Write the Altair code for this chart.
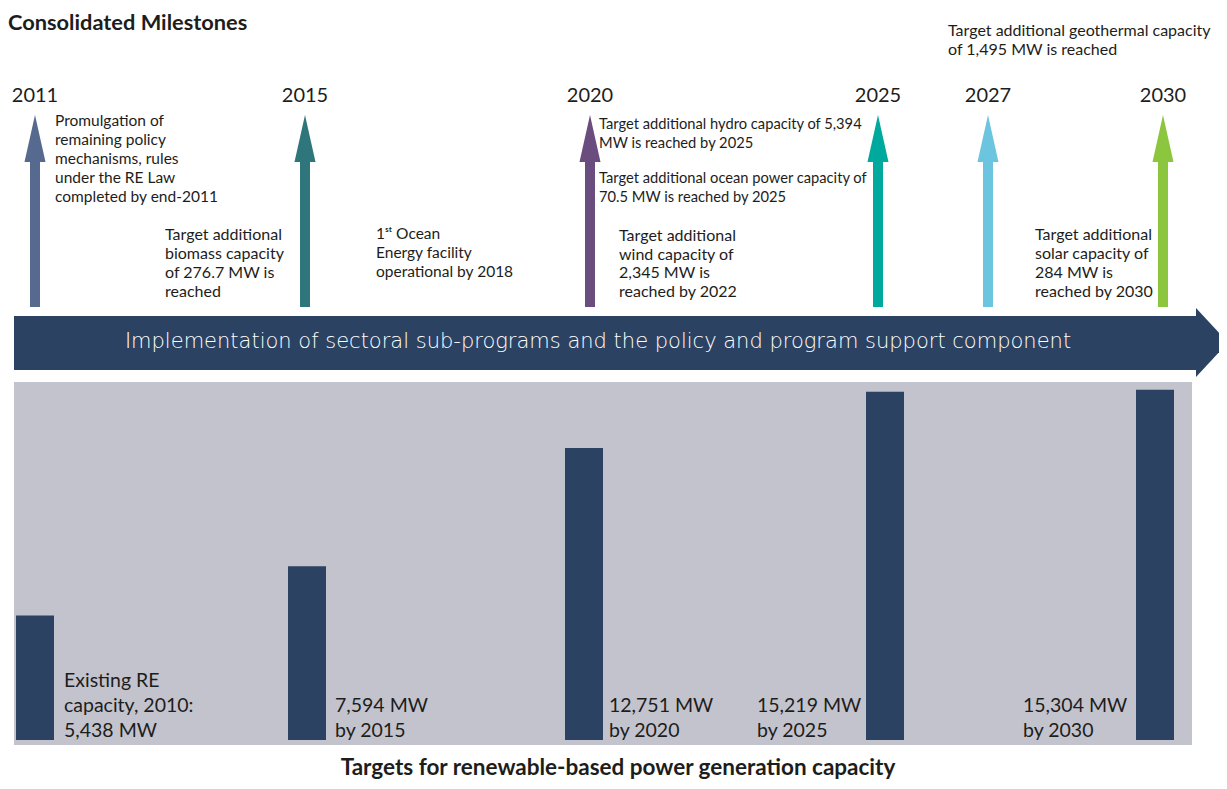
import altair as alt
import pandas as pd

# ---------------- data ----------------
milestone_years = [2011, 2015, 2020, 2025, 2027, 2030]
milestone_labels = ["2011", "2015", "2020", "2025", "2027", "2030"]
arrow_colors = ["#56698f", "#2e767b", "#6a4c7f", "#00a99d", "#6cc5de", "#8cc63f"]

note_years = [2011, 2015, 2015, 2020, 2020, 2020, 2027, 2030]
note_texts = [
    "Promulgation of\nremaining policy\nmechanisms, rules\nunder the RE Law\ncompleted by end-2011",
    "Target additional\nbiomass capacity\nof 276.7 MW is\nreached",
    "1\u02e2\u1d57 Ocean\nEnergy facility\noperational by 2018",
    "Target additional hydro capacity of 5,394\nMW is reached by 2025",
    "Target additional ocean power capacity of\n70.5 MW is reached by 2025",
    "Target additional\nwind capacity of\n2,345 MW is\nreached by 2022",
    "Target additional geothermal capacity\nof 1,495 MW is reached",
    "Target additional\nsolar capacity of\n284 MW is\nreached by 2030",
]

bar_years = [2010, 2015, 2020, 2025, 2030]
bar_values = [5438, 7594, 12751, 15219, 15304]
bar_labels = [
    "Existing RE\ncapacity, 2010:\n5,438 MW",
    "7,594 MW\nby 2015",
    "12,751 MW\nby 2020",
    "15,219 MW\nby 2025",
    "15,304 MW\nby 2030",
]

band_text = "Implementation of sectoral sub-programs and the policy and program support component"
top_title = "Consolidated Milestones"
bottom_title = "Targets for renewable-based power generation capacity"

# ---------------- layout / style ----------------
W = 1211
TOP_H = 372
BOT_H = 401
milestone_px = [27, 297, 582, 870, 980, 1155]
bar_px = [27, 299, 576, 877, 1147]
# (dx from arrow, first-line baseline, font size, line height)
note_layout = [
    (20, 118, 15.5, 19),
    (-140, 232, 16, 19),
    (71, 231, 15.5, 19),
    (9, 121, 14.7, 19),
    (9, 175, 14.7, 19),
    (29, 233, 16, 18.7),
    (-40, 28, 16, 18.5),
    (-128, 232, 16, 19),
]
bar_label_dx = [29, 28, 25, -128, -132]
BAR_LABEL_LH = 25
BAR_LABEL_LAST_BASELINE = 357

TEXT = "#1d1d1b"
NAVY = "#2c4262"
GREY = "#c3c3cd"
FONT = "Lato"
WIDE = "DejaVu Sans"

# ---------------- top panel: milestones ----------------
xm = alt.X("year:Q", scale=alt.Scale(domain=milestone_years, range=milestone_px,
                                     zero=False, nice=False, padding=0), axis=None)
arrows = pd.DataFrame({"year": milestone_years, "label": milestone_labels, "color": arrow_colors})

shaft = alt.Chart(arrows).mark_rule(strokeWidth=10, strokeCap="butt").encode(
    x=xm, y=alt.value(150), y2=alt.value(299), color=alt.Color("color:N", scale=None))
head = alt.Chart(arrows).mark_point(shape="M0,-1L0.447,1L-0.447,1Z", filled=True,
                                    size=2209, opacity=1, strokeWidth=0).encode(
    x=xm, y=alt.value(130.5), fill=alt.Color("color:N", scale=None))
years_txt = alt.Chart(arrows).mark_text(font=FONT, fontSize=20, align="center",
                                        baseline="alphabetic", color=TEXT).encode(
    x=xm, y=alt.value(94), text="label:N")

note_layers = []
for yr, txt, (dx, by, fs, lh) in zip(note_years, note_texts, note_layout):
    df = pd.DataFrame({"year": [yr], "text": [txt]})
    note_layers.append(
        alt.Chart(df).mark_text(font=FONT, fontSize=fs, lineHeight=lh, lineBreak="\n",
                                align="left", baseline="alphabetic", dx=dx, color=TEXT).encode(
            x=xm, y=alt.value(by), text="text:N"))

title_df = pd.DataFrame({"text": [top_title]})
title_txt = alt.Chart(title_df).mark_text(font=FONT, fontSize=21.8, fontWeight="bold",
                                          align="left", baseline="alphabetic", color=TEXT).encode(
    x=alt.value(0), y=alt.value(22), text="text:N")

band_df = pd.DataFrame({"text": [band_text]})
band_body = alt.Chart(band_df).mark_rect(color=NAVY).encode(
    x=alt.value(6), x2=alt.value(1188), y=alt.value(308), y2=alt.value(362))
band_head = alt.Chart(band_df).mark_point(shape="M-0.464,-1L0.464,0L-0.464,1Z", filled=True,
                                          size=4761, opacity=1, strokeWidth=0, color=NAVY,
                                          clip=True).encode(
    x=alt.value(1204), y=alt.value(334.5))
band_txt = alt.Chart(band_df).mark_text(font=WIDE, fontSize=21, fontWeight=300, color="white",
                                        align="center", baseline="middle").encode(
    x=alt.value(590), y=alt.value(334), text="text:N")

top = alt.layer(title_txt, years_txt, shaft, head, *note_layers,
                band_body, band_head, band_txt).properties(width=W, height=TOP_H)

# ---------------- bottom panel: capacity targets ----------------
xb = alt.X("year:Q", scale=alt.Scale(domain=bar_years, range=bar_px, zero=False,
                                     nice=False, padding=0), axis=None)
yb = alt.Y("value:Q", scale=alt.Scale(domain=[0, 15727], range=[360, 0], nice=False), axis=None)
bars_df = pd.DataFrame({"year": bar_years, "value": bar_values, "label": bar_labels})

panel = alt.Chart(pd.DataFrame({"k": [0]})).mark_rect(color=GREY).encode(
    x=alt.value(6), x2=alt.value(1184), y=alt.value(2), y2=alt.value(365))
bars = alt.Chart(bars_df).mark_bar(size=38, color=NAVY).encode(x=xb, y=yb)

label_layers = []
for i, dx in enumerate(bar_label_dx):
    n_lines = bar_labels[i].count("\n") + 1
    first_baseline = BAR_LABEL_LAST_BASELINE - (n_lines - 1) * BAR_LABEL_LH
    label_layers.append(
        alt.Chart(bars_df.iloc[[i]]).mark_text(font=FONT, fontSize=19.5, lineHeight=BAR_LABEL_LH,
                                               lineBreak="\n", align="left", baseline="alphabetic",
                                               dx=dx, color=TEXT).encode(
            x=xb, y=alt.value(first_baseline), text="label:N"))

btitle_df = pd.DataFrame({"text": [bottom_title]})
btitle = alt.Chart(btitle_df).mark_text(font=FONT, fontSize=22.5, fontWeight="bold", align="center",
                                        baseline="alphabetic", color=TEXT).encode(
    x=alt.value(610), y=alt.value(395), text="text:N")

bottom = alt.layer(panel, bars, *label_layers, btitle).properties(width=W, height=BOT_H)

chart = alt.vconcat(top, bottom, spacing=0).resolve_scale(
    x="independent", y="independent").properties(padding=0).configure_view(stroke=None)

chart.save("out.html", embed_options={"renderer": "svg", "actions": False})
